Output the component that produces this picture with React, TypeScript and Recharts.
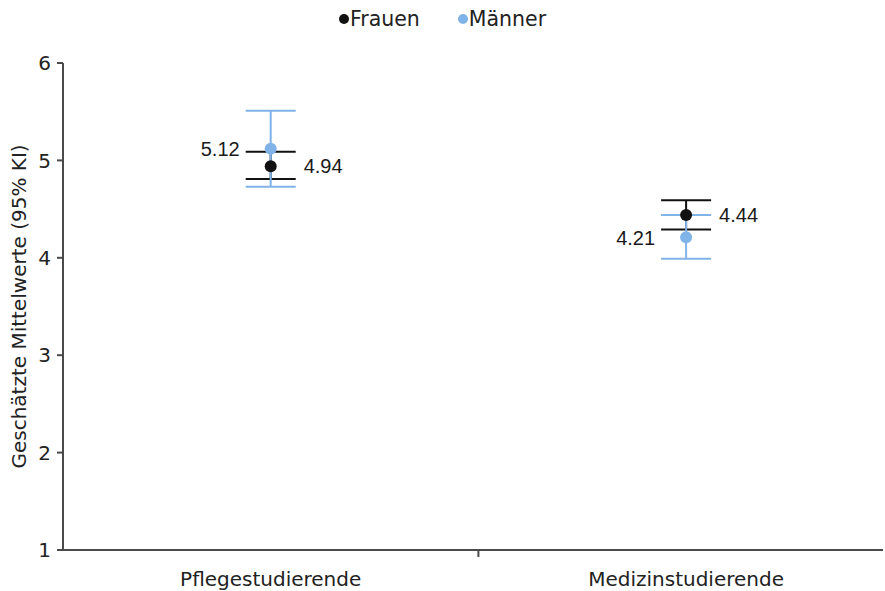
import { ScatterChart, Scatter, XAxis, YAxis, ErrorBar, Legend, Label } from 'recharts';

const categories = ['Pflegestudierende', 'Medizinstudierende'];

// estimated marginal means with 95% CI bounds
const frauenMean = [4.94, 4.44];
const frauenLow = [4.81, 4.29];
const frauenHigh = [5.09, 4.59];

const maennerMean = [5.12, 4.21];
const maennerLow = [4.73, 3.99];
const maennerHigh = [5.51, 4.44];

const yTicks = [1, 2, 3, 4, 5, 6];

const FRAUEN_COLOR = '#111111';
const MAENNER_COLOR = '#80b3e8';
const AXIS_COLOR = '#4a4a4a';
const SANS = '"DejaVu Sans", Verdana, sans-serif';
const ARIAL = '"Liberation Sans", Arial, sans-serif';

const buildSeries = (mean: number[], low: number[], high: number[]) =>
  categories.map((name, i) => ({
    pos: i + 0.5,
    name,
    mean: mean[i],
    ci: [mean[i] - low[i], high[i] - mean[i]],
  }));

const frauenData = buildSeries(frauenMean, frauenLow, frauenHigh);
const maennerData = buildSeries(maennerMean, maennerLow, maennerHigh);

// dot plus value label, placed to one side of the point
const makeDot = (color: string, side: 'left' | 'right') => (props: any) => {
  const { cx, cy, payload } = props;
  const dx = side === 'right' ? 33 : -31;
  return (
    <g>
      <circle cx={cx} cy={cy} r={6} fill={color} />
      <text
        x={cx + dx}
        y={cy}
        dy="0.36em"
        textAnchor={side === 'right' ? 'start' : 'end'}
        fontFamily={ARIAL}
        fontSize={20}
        fill="#1a1a1a"
      >
        {payload.mean.toFixed(2)}
      </text>
    </g>
  );
};

const XTick = (props: any) => {
  const { x, y, payload } = props;
  if (payload.value === 1) {
    return <line x1={x} x2={x} y1={y} y2={y + 7} stroke={AXIS_COLOR} strokeWidth={2} />;
  }
  const idx = Math.round(payload.value - 0.5);
  return (
    <text x={x} y={y + 36} textAnchor="middle" fontFamily={SANS} fontSize={20} fill="#222">
      {categories[idx]}
    </text>
  );
};

const renderLegend = () => (
  <div
    style={{
      display: 'flex',
      justifyContent: 'center',
      gap: 38,
      fontFamily: SANS,
      fontSize: 20.5,
      color: '#222',
    }}
  >
    {[
      { label: 'Frauen', color: FRAUEN_COLOR },
      { label: 'Männer', color: MAENNER_COLOR },
    ].map((item) => (
      <span key={item.label} style={{ display: 'flex', alignItems: 'center' }}>
        <span
          style={{
            display: 'inline-block',
            width: 10,
            height: 10,
            borderRadius: 5,
            background: item.color,
            marginRight: 1,
          }}
        />
        {item.label}
      </span>
    ))}
  </div>
);

const YTitle = (props: any) => {
  const { viewBox } = props;
  const cx = viewBox.x + 19;
  const cy = viewBox.y + viewBox.height / 2;
  return (
    <text
      transform={`translate(${cx},${cy}) rotate(-90)`}
      textAnchor="middle"
      dominantBaseline="central"
      fontFamily={SANS}
      fontSize={20}
      fill="#222"
    >
      Geschätzte Mittelwerte (95% KI)
    </text>
  );
};

export default function App() {
  return (
    <div style={{ position: 'absolute', left: 0, top: 0, background: '#fff' }}>
      <ScatterChart width={885} height={591} margin={{ top: 63, right: 2, bottom: 0, left: 0 }}>
        <XAxis
          type="number"
          dataKey="pos"
          domain={[0, 1.974]}
          ticks={[0.5, 1, 1.5]}
          tick={<XTick />}
          tickLine={false}
          tickSize={0}
          tickMargin={0}
          height={41}
          axisLine={{ stroke: AXIS_COLOR, strokeWidth: 2 }}
          allowDataOverflow
        />
        <YAxis
          type="number"
          dataKey="mean"
          domain={[1, 6]}
          ticks={yTicks}
          width={63}
          tickSize={6}
          tickMargin={6}
          axisLine={{ stroke: AXIS_COLOR, strokeWidth: 2 }}
          tickLine={{ stroke: AXIS_COLOR, strokeWidth: 2 }}
          tick={{ fill: '#222', fontSize: 20, fontFamily: SANS }}
        >
          <Label content={<YTitle />} />
        </YAxis>
        <Legend
          verticalAlign="middle"
          layout="horizontal"
          align="center"
          content={renderLegend}
          wrapperStyle={{ top: 7, left: 0, width: 885 }}
        />
        <Scatter
          name="Frauen"
          data={frauenData}
          fill={FRAUEN_COLOR}
          shape={makeDot(FRAUEN_COLOR, 'right')}
          isAnimationActive={false}
        >
          <ErrorBar dataKey="ci" direction="y" width={25} stroke={FRAUEN_COLOR} strokeWidth={2} />
        </Scatter>
        <Scatter
          name="Männer"
          data={maennerData}
          fill={MAENNER_COLOR}
          shape={makeDot(MAENNER_COLOR, 'left')}
          isAnimationActive={false}
        >
          <ErrorBar dataKey="ci" direction="y" width={25} stroke={MAENNER_COLOR} strokeWidth={2} />
        </Scatter>
      </ScatterChart>
    </div>
  );
}
